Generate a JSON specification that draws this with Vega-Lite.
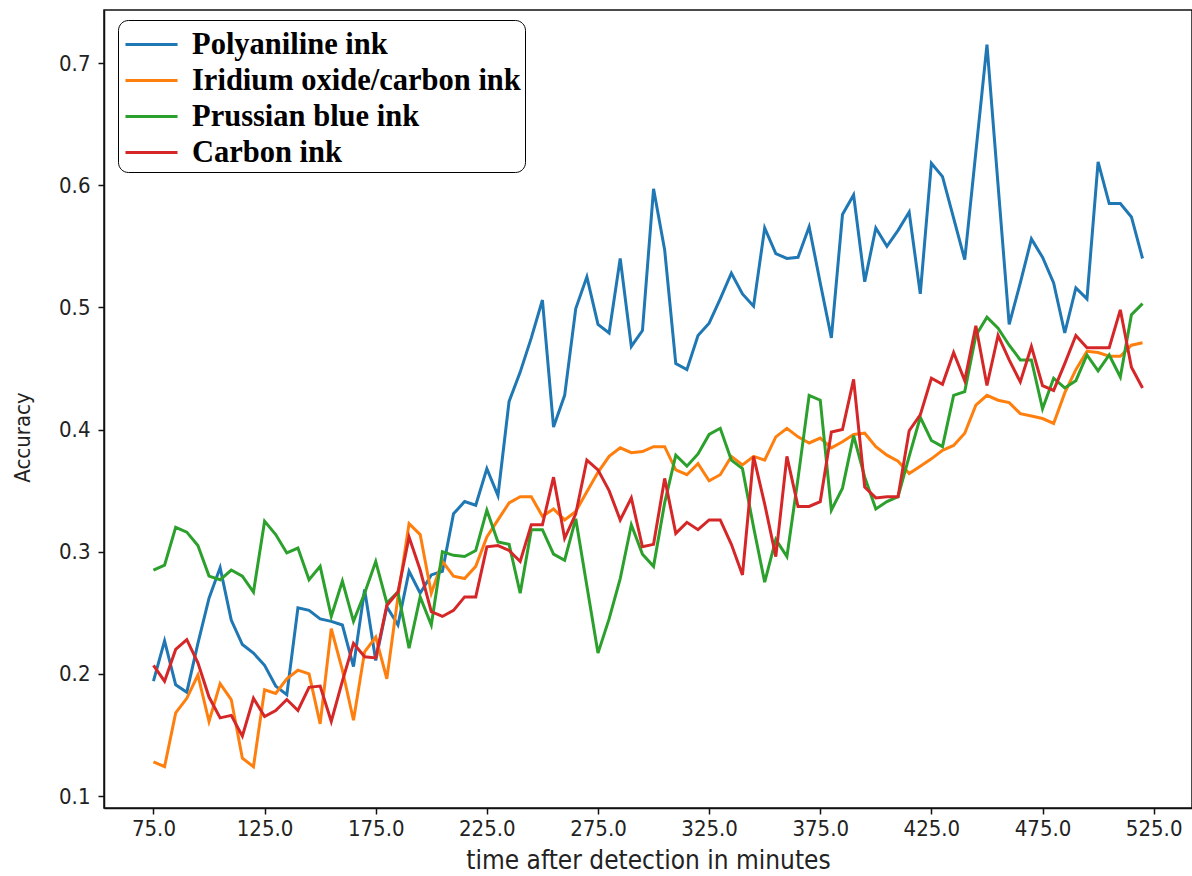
{
  "$schema": "https://vega.github.io/schema/vega-lite/v6.json",
  "width": 1088,
  "height": 798,
  "autosize": "none",
  "padding": {"left": 104, "top": 10, "right": 0, "bottom": 68},
  "background": "white",
  "config": {
    "view": {"stroke": "#111111", "strokeWidth": 1.5},
    "font": "DejaVu Sans Condensed, Liberation Sans Narrow, DejaVu Sans",
    "axis": {
      "grid": false,
      "domainColor": "#111111",
      "domainWidth": 1.5,
      "tickColor": "#111111",
      "tickWidth": 1.5,
      "tickSize": 6,
      "labelFont": "DejaVu Sans Condensed, Liberation Sans Narrow, DejaVu Sans",
      "labelFontSize": 22,
      "labelColor": "#222222",
      "titleFont": "DejaVu Sans Condensed, Liberation Sans Narrow, DejaVu Sans",
      "titleFontSize": 26,
      "titleFontWeight": "normal",
      "titleColor": "#222222"
    }
  },
  "data": {
    "values": [
      {"t":75,"Polyaniline ink":0.194,"Iridium oxide/carbon ink":0.128,"Prussian blue ink":0.285,"Carbon ink":0.207},
      {"t":80,"Polyaniline ink":0.227,"Iridium oxide/carbon ink":0.124,"Prussian blue ink":0.289,"Carbon ink":0.194},
      {"t":85,"Polyaniline ink":0.191,"Iridium oxide/carbon ink":0.168,"Prussian blue ink":0.320,"Carbon ink":0.220},
      {"t":90,"Polyaniline ink":0.185,"Iridium oxide/carbon ink":0.180,"Prussian blue ink":0.316,"Carbon ink":0.228},
      {"t":95,"Polyaniline ink":0.225,"Iridium oxide/carbon ink":0.199,"Prussian blue ink":0.305,"Carbon ink":0.209},
      {"t":100,"Polyaniline ink":0.262,"Iridium oxide/carbon ink":0.161,"Prussian blue ink":0.280,"Carbon ink":0.181},
      {"t":105,"Polyaniline ink":0.287,"Iridium oxide/carbon ink":0.192,"Prussian blue ink":0.277,"Carbon ink":0.164},
      {"t":110,"Polyaniline ink":0.244,"Iridium oxide/carbon ink":0.179,"Prussian blue ink":0.285,"Carbon ink":0.166},
      {"t":115,"Polyaniline ink":0.224,"Iridium oxide/carbon ink":0.131,"Prussian blue ink":0.280,"Carbon ink":0.149},
      {"t":120,"Polyaniline ink":0.217,"Iridium oxide/carbon ink":0.124,"Prussian blue ink":0.267,"Carbon ink":0.180},
      {"t":125,"Polyaniline ink":0.207,"Iridium oxide/carbon ink":0.187,"Prussian blue ink":0.325,"Carbon ink":0.165},
      {"t":130,"Polyaniline ink":0.190,"Iridium oxide/carbon ink":0.184,"Prussian blue ink":0.314,"Carbon ink":0.170},
      {"t":135,"Polyaniline ink":0.183,"Iridium oxide/carbon ink":0.196,"Prussian blue ink":0.299,"Carbon ink":0.179},
      {"t":140,"Polyaniline ink":0.254,"Iridium oxide/carbon ink":0.203,"Prussian blue ink":0.303,"Carbon ink":0.170},
      {"t":145,"Polyaniline ink":0.252,"Iridium oxide/carbon ink":0.200,"Prussian blue ink":0.277,"Carbon ink":0.189},
      {"t":150,"Polyaniline ink":0.245,"Iridium oxide/carbon ink":0.159,"Prussian blue ink":0.288,"Carbon ink":0.190},
      {"t":155,"Polyaniline ink":0.243,"Iridium oxide/carbon ink":0.237,"Prussian blue ink":0.247,"Carbon ink":0.161},
      {"t":160,"Polyaniline ink":0.240,"Iridium oxide/carbon ink":0.203,"Prussian blue ink":0.276,"Carbon ink":0.194},
      {"t":165,"Polyaniline ink":0.206,"Iridium oxide/carbon ink":0.162,"Prussian blue ink":0.243,"Carbon ink":0.225},
      {"t":170,"Polyaniline ink":0.269,"Iridium oxide/carbon ink":0.218,"Prussian blue ink":0.266,"Carbon ink":0.214},
      {"t":175,"Polyaniline ink":0.211,"Iridium oxide/carbon ink":0.230,"Prussian blue ink":0.292,"Carbon ink":0.213},
      {"t":180,"Polyaniline ink":0.255,"Iridium oxide/carbon ink":0.196,"Prussian blue ink":0.258,"Carbon ink":0.256},
      {"t":185,"Polyaniline ink":0.240,"Iridium oxide/carbon ink":0.263,"Prussian blue ink":0.267,"Carbon ink":0.267},
      {"t":190,"Polyaniline ink":0.284,"Iridium oxide/carbon ink":0.323,"Prussian blue ink":0.221,"Carbon ink":0.312},
      {"t":195,"Polyaniline ink":0.266,"Iridium oxide/carbon ink":0.314,"Prussian blue ink":0.263,"Carbon ink":0.285},
      {"t":200,"Polyaniline ink":0.281,"Iridium oxide/carbon ink":0.266,"Prussian blue ink":0.240,"Carbon ink":0.251},
      {"t":205,"Polyaniline ink":0.284,"Iridium oxide/carbon ink":0.292,"Prussian blue ink":0.300,"Carbon ink":0.247},
      {"t":210,"Polyaniline ink":0.331,"Iridium oxide/carbon ink":0.280,"Prussian blue ink":0.297,"Carbon ink":0.252},
      {"t":215,"Polyaniline ink":0.341,"Iridium oxide/carbon ink":0.278,"Prussian blue ink":0.296,"Carbon ink":0.263},
      {"t":220,"Polyaniline ink":0.338,"Iridium oxide/carbon ink":0.288,"Prussian blue ink":0.301,"Carbon ink":0.263},
      {"t":225,"Polyaniline ink":0.368,"Iridium oxide/carbon ink":0.312,"Prussian blue ink":0.334,"Carbon ink":0.304},
      {"t":230,"Polyaniline ink":0.346,"Iridium oxide/carbon ink":0.326,"Prussian blue ink":0.308,"Carbon ink":0.305},
      {"t":235,"Polyaniline ink":0.423,"Iridium oxide/carbon ink":0.340,"Prussian blue ink":0.306,"Carbon ink":0.301},
      {"t":240,"Polyaniline ink":0.447,"Iridium oxide/carbon ink":0.345,"Prussian blue ink":0.266,"Carbon ink":0.292},
      {"t":245,"Polyaniline ink":0.475,"Iridium oxide/carbon ink":0.345,"Prussian blue ink":0.318,"Carbon ink":0.322},
      {"t":250,"Polyaniline ink":0.506,"Iridium oxide/carbon ink":0.329,"Prussian blue ink":0.318,"Carbon ink":0.322},
      {"t":255,"Polyaniline ink":0.402,"Iridium oxide/carbon ink":0.335,"Prussian blue ink":0.298,"Carbon ink":0.361},
      {"t":260,"Polyaniline ink":0.428,"Iridium oxide/carbon ink":0.326,"Prussian blue ink":0.293,"Carbon ink":0.311},
      {"t":265,"Polyaniline ink":0.499,"Iridium oxide/carbon ink":0.333,"Prussian blue ink":0.327,"Carbon ink":0.331},
      {"t":270,"Polyaniline ink":0.525,"Iridium oxide/carbon ink":0.349,"Prussian blue ink":0.272,"Carbon ink":0.375},
      {"t":275,"Polyaniline ink":0.486,"Iridium oxide/carbon ink":0.365,"Prussian blue ink":0.217,"Carbon ink":0.367},
      {"t":280,"Polyaniline ink":0.479,"Iridium oxide/carbon ink":0.378,"Prussian blue ink":0.245,"Carbon ink":0.350},
      {"t":285,"Polyaniline ink":0.540,"Iridium oxide/carbon ink":0.385,"Prussian blue ink":0.278,"Carbon ink":0.326},
      {"t":290,"Polyaniline ink":0.468,"Iridium oxide/carbon ink":0.381,"Prussian blue ink":0.322,"Carbon ink":0.344},
      {"t":295,"Polyaniline ink":0.481,"Iridium oxide/carbon ink":0.382,"Prussian blue ink":0.298,"Carbon ink":0.304},
      {"t":300,"Polyaniline ink":0.597,"Iridium oxide/carbon ink":0.386,"Prussian blue ink":0.288,"Carbon ink":0.306},
      {"t":305,"Polyaniline ink":0.547,"Iridium oxide/carbon ink":0.386,"Prussian blue ink":0.340,"Carbon ink":0.360},
      {"t":310,"Polyaniline ink":0.454,"Iridium oxide/carbon ink":0.367,"Prussian blue ink":0.379,"Carbon ink":0.315},
      {"t":315,"Polyaniline ink":0.449,"Iridium oxide/carbon ink":0.363,"Prussian blue ink":0.370,"Carbon ink":0.324},
      {"t":320,"Polyaniline ink":0.477,"Iridium oxide/carbon ink":0.372,"Prussian blue ink":0.380,"Carbon ink":0.318},
      {"t":325,"Polyaniline ink":0.487,"Iridium oxide/carbon ink":0.358,"Prussian blue ink":0.396,"Carbon ink":0.326},
      {"t":330,"Polyaniline ink":0.507,"Iridium oxide/carbon ink":0.363,"Prussian blue ink":0.401,"Carbon ink":0.326},
      {"t":335,"Polyaniline ink":0.528,"Iridium oxide/carbon ink":0.378,"Prussian blue ink":0.375,"Carbon ink":0.306},
      {"t":340,"Polyaniline ink":0.511,"Iridium oxide/carbon ink":0.371,"Prussian blue ink":0.368,"Carbon ink":0.281},
      {"t":345,"Polyaniline ink":0.501,"Iridium oxide/carbon ink":0.378,"Prussian blue ink":0.320,"Carbon ink":0.378},
      {"t":350,"Polyaniline ink":0.565,"Iridium oxide/carbon ink":0.375,"Prussian blue ink":0.275,"Carbon ink":0.339},
      {"t":355,"Polyaniline ink":0.544,"Iridium oxide/carbon ink":0.394,"Prussian blue ink":0.310,"Carbon ink":0.296},
      {"t":360,"Polyaniline ink":0.540,"Iridium oxide/carbon ink":0.401,"Prussian blue ink":0.296,"Carbon ink":0.378},
      {"t":365,"Polyaniline ink":0.541,"Iridium oxide/carbon ink":0.394,"Prussian blue ink":0.360,"Carbon ink":0.337},
      {"t":370,"Polyaniline ink":0.566,"Iridium oxide/carbon ink":0.389,"Prussian blue ink":0.428,"Carbon ink":0.337},
      {"t":375,"Polyaniline ink":0.520,"Iridium oxide/carbon ink":0.393,"Prussian blue ink":0.424,"Carbon ink":0.341},
      {"t":380,"Polyaniline ink":0.475,"Iridium oxide/carbon ink":0.385,"Prussian blue ink":0.334,"Carbon ink":0.398},
      {"t":385,"Polyaniline ink":0.576,"Iridium oxide/carbon ink":0.390,"Prussian blue ink":0.352,"Carbon ink":0.400},
      {"t":390,"Polyaniline ink":0.592,"Iridium oxide/carbon ink":0.396,"Prussian blue ink":0.395,"Carbon ink":0.441},
      {"t":395,"Polyaniline ink":0.521,"Iridium oxide/carbon ink":0.397,"Prussian blue ink":0.361,"Carbon ink":0.353},
      {"t":400,"Polyaniline ink":0.565,"Iridium oxide/carbon ink":0.386,"Prussian blue ink":0.335,"Carbon ink":0.344},
      {"t":405,"Polyaniline ink":0.550,"Iridium oxide/carbon ink":0.379,"Prussian blue ink":0.341,"Carbon ink":0.345},
      {"t":410,"Polyaniline ink":0.563,"Iridium oxide/carbon ink":0.374,"Prussian blue ink":0.345,"Carbon ink":0.345},
      {"t":415,"Polyaniline ink":0.578,"Iridium oxide/carbon ink":0.364,"Prussian blue ink":0.378,"Carbon ink":0.399},
      {"t":420,"Polyaniline ink":0.511,"Iridium oxide/carbon ink":0.370,"Prussian blue ink":0.410,"Carbon ink":0.412},
      {"t":425,"Polyaniline ink":0.618,"Iridium oxide/carbon ink":0.376,"Prussian blue ink":0.391,"Carbon ink":0.442},
      {"t":430,"Polyaniline ink":0.607,"Iridium oxide/carbon ink":0.383,"Prussian blue ink":0.386,"Carbon ink":0.437},
      {"t":435,"Polyaniline ink":0.573,"Iridium oxide/carbon ink":0.387,"Prussian blue ink":0.428,"Carbon ink":0.463},
      {"t":440,"Polyaniline ink":0.539,"Iridium oxide/carbon ink":0.397,"Prussian blue ink":0.431,"Carbon ink":0.440},
      {"t":445,"Polyaniline ink":0.627,"Iridium oxide/carbon ink":0.420,"Prussian blue ink":0.477,"Carbon ink":0.485},
      {"t":450,"Polyaniline ink":0.715,"Iridium oxide/carbon ink":0.428,"Prussian blue ink":0.492,"Carbon ink":0.436},
      {"t":455,"Polyaniline ink":0.600,"Iridium oxide/carbon ink":0.424,"Prussian blue ink":0.483,"Carbon ink":0.477},
      {"t":460,"Polyaniline ink":0.486,"Iridium oxide/carbon ink":0.422,"Prussian blue ink":0.469,"Carbon ink":0.457},
      {"t":465,"Polyaniline ink":0.520,"Iridium oxide/carbon ink":0.413,"Prussian blue ink":0.457,"Carbon ink":0.439},
      {"t":470,"Polyaniline ink":0.556,"Iridium oxide/carbon ink":0.411,"Prussian blue ink":0.457,"Carbon ink":0.468},
      {"t":475,"Polyaniline ink":0.541,"Iridium oxide/carbon ink":0.409,"Prussian blue ink":0.417,"Carbon ink":0.436},
      {"t":480,"Polyaniline ink":0.520,"Iridium oxide/carbon ink":0.405,"Prussian blue ink":0.442,"Carbon ink":0.432},
      {"t":485,"Polyaniline ink":0.479,"Iridium oxide/carbon ink":0.430,"Prussian blue ink":0.434,"Carbon ink":0.454},
      {"t":490,"Polyaniline ink":0.516,"Iridium oxide/carbon ink":0.449,"Prussian blue ink":0.440,"Carbon ink":0.477},
      {"t":495,"Polyaniline ink":0.507,"Iridium oxide/carbon ink":0.464,"Prussian blue ink":0.461,"Carbon ink":0.467},
      {"t":500,"Polyaniline ink":0.619,"Iridium oxide/carbon ink":0.463,"Prussian blue ink":0.448,"Carbon ink":0.467},
      {"t":505,"Polyaniline ink":0.585,"Iridium oxide/carbon ink":0.460,"Prussian blue ink":0.461,"Carbon ink":0.467},
      {"t":510,"Polyaniline ink":0.585,"Iridium oxide/carbon ink":0.460,"Prussian blue ink":0.443,"Carbon ink":0.498},
      {"t":515,"Polyaniline ink":0.574,"Iridium oxide/carbon ink":0.469,"Prussian blue ink":0.494,"Carbon ink":0.451},
      {"t":520,"Polyaniline ink":0.540,"Iridium oxide/carbon ink":0.471,"Prussian blue ink":0.503,"Carbon ink":0.434}
    ]
  },
  "transform": [
    {"fold": ["Polyaniline ink", "Iridium oxide/carbon ink", "Prussian blue ink", "Carbon ink"], "as": ["ink", "accuracy"]}
  ],
  "mark": {"type": "line", "strokeWidth": 3, "clip": true},
  "encoding": {
    "x": {
      "field": "t",
      "type": "quantitative",
      "scale": {"domain": [52.75, 542.25], "nice": false, "zero": false},
      "axis": {
        "values": [75, 125, 175, 225, 275, 325, 375, 425, 475, 525],
        "format": ".1f",
        "labelPadding": 4,
        "labelFlush": false,
        "title": "time after detection in minutes",
        "titlePadding": 8
      }
    },
    "y": {
      "field": "accuracy",
      "type": "quantitative",
      "scale": {"domain": [0.0902, 0.7434], "nice": false, "zero": false},
      "axis": {
        "values": [0.1, 0.2, 0.3, 0.4, 0.5, 0.6, 0.7],
        "format": ".1f",
        "labelPadding": 8,
        "labelFlush": false,
        "title": "Accuracy",
        "titleFontSize": 22,
        "titleY": 427,
        "titlePadding": 24
      }
    },
    "color": {
      "field": "ink",
      "type": "nominal",
      "scale": {
        "domain": ["Polyaniline ink", "Iridium oxide/carbon ink", "Prussian blue ink", "Carbon ink"],
        "range": ["#1f77b4", "#ff7f0e", "#2ca02c", "#d62728"]
      },
      "legend": {
        "orient": "none",
        "legendX": 14,
        "legendY": 10,
        "title": null,
        "labelFont": "Liberation Serif",
        "labelFontWeight": "bold",
        "labelFontSize": 30.5,
        "labelColor": "#000000",
        "labelLimit": 0,
        "labelOffset": 20,
        "symbolType": "M-1.37,0H1.37",
        "symbolStrokeWidth": 3,
        "symbolSize": 1444,
        "symbolOffset": 9,
        "strokeColor": "#000000",
        "cornerRadius": 10,
        "fillColor": "white",
        "padding": 4,
        "rowPadding": -2
      }
    }
  }
}
